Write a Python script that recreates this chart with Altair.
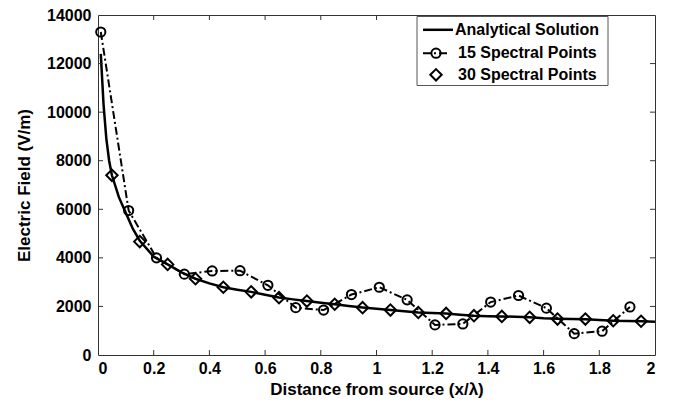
import altair as alt
import pandas as pd

# ---- data ----
an_x = [0.01, 0.02, 0.03, 0.04, 0.05, 0.075, 0.1, 0.125, 0.15, 0.2, 0.25, 0.3, 0.35, 0.4, 0.45,
        0.5, 0.55, 0.6, 0.65, 0.7, 0.75, 0.8, 0.85, 0.9, 0.95, 1.0, 1.05, 1.1, 1.15, 1.2, 1.25,
        1.3, 1.35, 1.4, 1.45, 1.5, 1.55, 1.6, 1.65, 1.7, 1.75, 1.8, 1.85, 1.9, 1.95, 2.0]
an_y = [12400, 10300, 8900, 8000, 7400, 6500, 5850, 5200, 4700, 4050, 3730, 3400, 3140, 2950, 2790,
        2690, 2600, 2480, 2370, 2290, 2220, 2150, 2090, 2020, 1960, 1900, 1850, 1800, 1750, 1730, 1710,
        1660, 1620, 1600, 1590, 1570, 1550, 1510, 1490, 1480, 1470, 1440, 1410, 1400, 1390, 1370]

s15_x = [0.01, 0.11, 0.21, 0.31, 0.41, 0.51, 0.61, 0.71, 0.81, 0.91,
         1.01, 1.11, 1.21, 1.31, 1.41, 1.51, 1.61, 1.71, 1.81, 1.91]
s15_y = [13300, 5950, 4000, 3330, 3460, 3470, 2870, 1950, 1850, 2490,
         2790, 2270, 1240, 1280, 2180, 2450, 1930, 880, 980, 1980]

s30_x = [0.05, 0.15, 0.25, 0.35, 0.45, 0.55, 0.65, 0.75, 0.85, 0.95,
         1.05, 1.15, 1.25, 1.35, 1.45, 1.55, 1.65, 1.75, 1.85, 1.95]
s30_y = [7400, 4670, 3730, 3140, 2790, 2600, 2360, 2220, 2090, 1950,
         1850, 1750, 1710, 1620, 1590, 1550, 1480, 1480, 1410, 1390]

x_ticks = [0, 0.2, 0.4, 0.6, 0.8, 1.0, 1.2, 1.4, 1.6, 1.8, 2.0]
y_ticks = [0, 2000, 4000, 6000, 8000, 10000, 12000, 14000]
x_inner_ticks = [0.2, 0.4, 0.6, 0.8, 1.0, 1.2, 1.4, 1.6, 1.8]
y_inner_ticks = [2000, 4000, 6000, 8000, 10000, 12000]

legend_labels = ["Analytical Solution", "15 Spectral Points", "30 Spectral Points"]

W, H = 557, 340
FONT = "Liberation Sans"

an_df = pd.DataFrame({"x": an_x, "y": an_y})
s15_df = pd.DataFrame({"x": s15_x, "y": s15_y})
s30_df = pd.DataFrame({"x": s30_x, "y": s30_y})

xs = alt.Scale(domain=[0, 2], nice=False, zero=False)
ys = alt.Scale(domain=[0, 14000], nice=False)

X = alt.X("x:Q", scale=xs,
          axis=alt.Axis(values=x_ticks, format=".1~f", title="Distance from source (x/λ)"))
Y = alt.Y("y:Q", scale=ys,
          axis=alt.Axis(values=y_ticks, format="d", title="Electric Field (V/m)"))

analytical = alt.Chart(an_df).mark_line(color="black", strokeWidth=2.5).encode(x=X, y=Y)
s15_line = alt.Chart(s15_df).mark_line(color="black", strokeWidth=2,
                                       strokeDash=[8, 3, 2, 3]).encode(x=X, y=Y)
s15_pts = alt.Chart(s15_df).mark_point(shape="circle", filled=False, color="black",
                                       size=85, strokeWidth=2, opacity=1).encode(x=X, y=Y)
s30_pts = alt.Chart(s30_df).mark_point(shape="diamond", filled=False, color="black",
                                       size=130, strokeWidth=2, opacity=1).encode(x=X, y=Y)

# inward ticks (MATLAB style box)
xt_df = pd.DataFrame({"x": x_inner_ticks})
yt_df = pd.DataFrame({"y": y_inner_ticks})
TK = "#333333"
xt_bottom = alt.Chart(xt_df).mark_rule(color=TK, strokeWidth=1).encode(
    x=X, y=alt.value(H), y2=alt.value(H - 5))
xt_top = alt.Chart(xt_df).mark_rule(color=TK, strokeWidth=1).encode(
    x=X, y=alt.value(0), y2=alt.value(5))
yt_left = alt.Chart(yt_df).mark_rule(color=TK, strokeWidth=1).encode(
    y=Y, x=alt.value(0), x2=alt.value(5))
yt_right = alt.Chart(yt_df).mark_rule(color=TK, strokeWidth=1).encode(
    y=Y, x=alt.value(W), x2=alt.value(W - 5))

# legend box
one = alt.Data(values=[{"a": 1}])
LX0, LX1, LY0, LY1 = 319, 510, 1.5, 70.5
rows = [14.8, 38.2, 59.8]
leg_box = alt.Chart(one).mark_rect(fill="white", stroke="#555555", strokeWidth=1).encode(
    x=alt.value(LX0), x2=alt.value(LX1), y=alt.value(LY0), y2=alt.value(LY1))
leg_l1 = alt.Chart(one).mark_rule(color="black", strokeWidth=2.5).encode(
    x=alt.value(325), x2=alt.value(355), y=alt.value(rows[0]))
leg_l2 = alt.Chart(one).mark_rule(color="black", strokeWidth=2, strokeDash=[8, 3, 2, 3]).encode(
    x=alt.value(325), x2=alt.value(351), y=alt.value(rows[1]))
leg_p2 = alt.Chart(one).mark_point(shape="circle", filled=False, color="black", size=85,
                                   strokeWidth=2, opacity=1).encode(
    x=alt.value(338), y=alt.value(rows[1]))
leg_p3 = alt.Chart(one).mark_point(shape="diamond", filled=False, color="black", size=130,
                                   strokeWidth=2, opacity=1).encode(
    x=alt.value(338), y=alt.value(rows[2]))
txt_kw = dict(align="left", baseline="middle", font=FONT, fontSize=16, fontWeight="bold", color="black")
leg_t1 = alt.Chart(one).mark_text(**txt_kw).encode(
    x=alt.value(357), y=alt.value(rows[0]), text=alt.value(legend_labels[0]))
leg_t2 = alt.Chart(one).mark_text(**txt_kw).encode(
    x=alt.value(360), y=alt.value(rows[1]), text=alt.value(legend_labels[1]))
leg_t3 = alt.Chart(one).mark_text(**txt_kw).encode(
    x=alt.value(360), y=alt.value(rows[2]), text=alt.value(legend_labels[2]))

chart = alt.layer(
    analytical, s15_line, s15_pts, s30_pts,
    xt_bottom, xt_top, yt_left, yt_right,
    leg_box, leg_l1, leg_l2, leg_p2, leg_p3, leg_t1, leg_t2, leg_t3,
).properties(
    width=W, height=H,
    padding={"left": 90, "top": 7, "right": 16, "bottom": 45},
    autosize=alt.AutoSizeParams(type="none"),
).configure_view(
    stroke="#333333", strokeWidth=1
).configure_axis(
    grid=False, domain=False, ticks=False, tickSize=0,
    labelFont=FONT, labelFontSize=16, labelFontWeight="bold", labelColor="black",
    titleFont=FONT, titleFontSize=17, titleFontWeight="bold", titleColor="black",
).configure_axisX(
    labelPadding=5, titlePadding=5
).configure_axisY(
    labelPadding=7, titlePadding=13
)

chart.save("out.html", embed_options={"renderer": "svg", "actions": False})
